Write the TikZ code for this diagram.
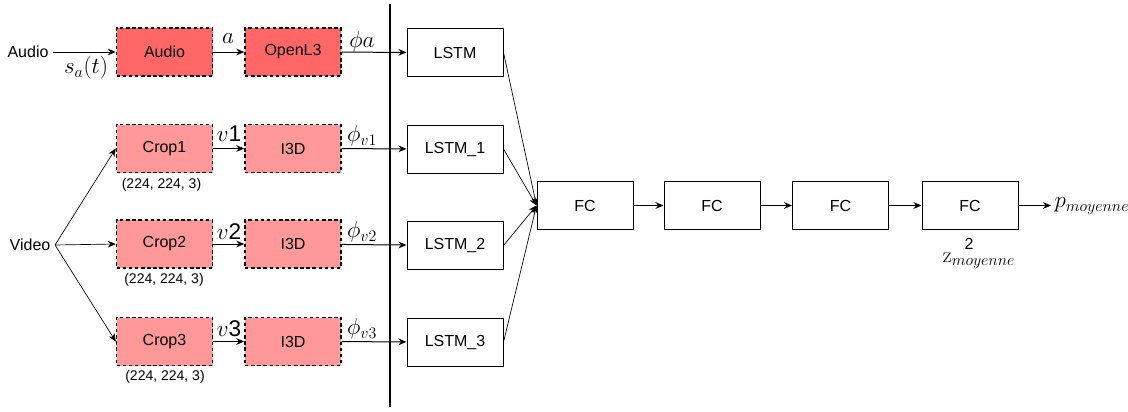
\documentclass[tikz,border=0pt]{standalone}
\usepackage{fontspec}
\setsansfont{Liberation Sans}
\usetikzlibrary{arrows.meta}
\begin{document}
\begin{tikzpicture}[x=0.75pt,y=-0.75pt,
  every node/.style={font=\sffamily\fontsize{12}{14}\selectfont},
  box/.style={draw=black,line width=0.75pt,minimum width=72pt,minimum height=36pt,inner sep=0pt},
  dbox/.style={box,line width=1.1pt,dash pattern=on 2.6pt off 2pt},
  pinkbox/.style={dbox,fill={rgb,255:red,255;green,153;blue,153}},
  wbox/.style={box,fill=white},
  lbl/.style={font=\fontsize{16.5}{18}\selectfont},
  small/.style={font=\sffamily\fontsize{10.5}{12}\selectfont},
  arr/.style={-{Stealth[length=6pt,width=5pt]},line width=0.75pt},
  thin/.style={-{Stealth[length=6pt,width=5pt]},line width=0.5pt}]
\useasboundingbox (0,0) rectangle (1128,411);
\definecolor{red1}{RGB}{255,102,102}
% left column
\node (audiolbl) at (28,52) {Audio};
\node[dbox,fill=red1] (audio) at (164.5,52) {Audio};
\node[dbox,fill=red1] (openl3) at (293,52) {OpenL3};
\node (videolbl) at (30,245) {Video};
\node[pinkbox] (crop1) at (164.5,148.5) {Crop1};
\node[pinkbox] (crop2) at (164.5,244) {Crop2};
\node[pinkbox] (crop3) at (164.5,341.5) {Crop3};
\node[pinkbox] (i3d1) at (293,148.5) {I3D};
\node[pinkbox] (i3d2) at (293,244) {I3D};
\node[pinkbox] (i3d3) at (293,341.5) {I3D};
\node[small] (d1) at (161.5,185) {(224, 224, 3)};
\node[small] (d2) at (164,280) {(224, 224, 3)};
\node[small] (d3) at (165,377) {(224, 224, 3)};
% LSTMs
\node[wbox] (lstm) at (455,52.5) {LSTM};
\node[wbox] (lstm1) at (455,149) {LSTM\_1};
\node[wbox] (lstm2) at (455,245.5) {LSTM\_2};
\node[wbox] (lstm3) at (455,342) {LSTM\_3};
% FCs
\node[wbox] (fc1) at (585,205.5) {FC};
\node[wbox] (fc2) at (712,205.5) {FC};
\node[wbox] (fc3) at (840.5,205.5) {FC};
\node[wbox] (fc4) at (970,205.5) {FC};
\coordinate (pend) at (1051,205.5);
\node[lbl,anchor=west,inner sep=1pt] (p) at (1053,206) {$p_{moyenne}$};
\node (two) at (969,244) {2};
\node[lbl] (z) at (979,261) {$\mathrm{z}_{moyenne}$};
% vertical bar
\coordinate (bartop) at (390,4);
\coordinate (barbot) at (390,407);
\draw[line width=2.2pt] (bartop) -- (barbot);
% connectors
\draw[arr] (audiolbl.east) -- (audio.west);
\draw[arr] (audio) -- (openl3);
\draw[arr] (openl3) -- (lstm);
\foreach \c/\i/\l in {crop1/i3d1/lstm1,crop2/i3d2/lstm2,crop3/i3d3/lstm3}{
  \draw[arr] (\c) -- (\i);
  \draw[arr] (\i) -- (\l);
  \draw[thin] (videolbl.east) -- (\c.west);
}
\foreach \l in {lstm,lstm1,lstm2,lstm3}
  \draw[thin] (\l.east) -- (fc1.west);
\draw[arr] (fc1) -- (fc2);
\draw[arr] (fc2) -- (fc3);
\draw[arr] (fc3) -- (fc4);
\draw[arr] (fc4) -- (pend);
% labels
\node[lbl] (sa) at (86,68) {$s_a(t)$};
\node[lbl] (la) at (228,39) {$a$};
\node[lbl] (phia) at (362,42) {$\phi a$};
\node[lbl] (v1) at (229,134) {$v$\textsf{\fontsize{17}{18}\selectfont 1}};
\node[lbl] (v2) at (229,232) {$v$\textsf{\fontsize{17}{18}\selectfont 2}};
\node[lbl] (v3) at (229,329) {$v$\textsf{\fontsize{17}{18}\selectfont 3}};
\node[lbl] (pv1) at (362,136) {$\phi_{v1}$};
\node[lbl] (pv2) at (362,232) {$\phi_{v2}$};
\node[lbl] (pv3) at (362,329) {$\phi_{v3}$};
\end{tikzpicture}
\end{document}
